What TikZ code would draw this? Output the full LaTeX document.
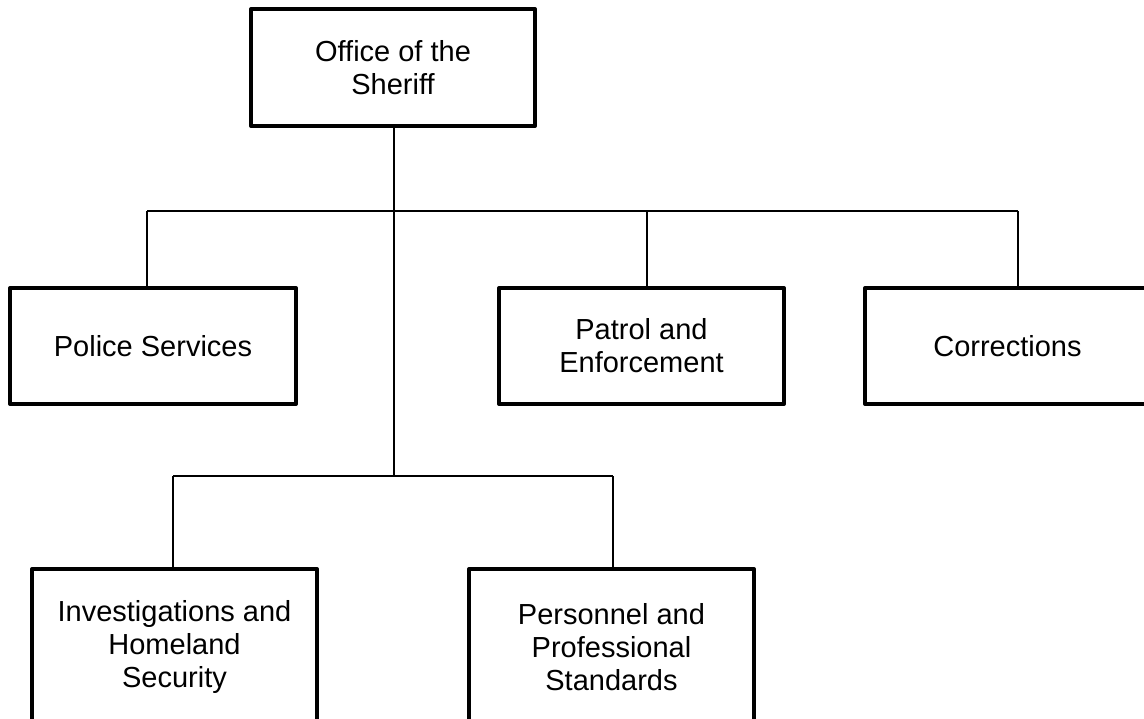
\documentclass[tikz,border=0pt]{standalone}
\usepackage{fontspec}
\setmainfont{Liberation Sans}
\begin{document}
\begin{tikzpicture}[x=1pt,y=-1pt,
  unit/.style={draw=black,line width=4pt,line join=round,fill=white,
    rectangle,align=center,inner sep=0pt,
    font=\fontsize{29}{33}\selectfont},
  unitbox/.style={unit,minimum width=285pt,minimum height=116pt},
  tallbox/.style={unit,minimum width=285pt,minimum height=156pt},
  conn/.style={draw=black,line width=1.3pt}]
\useasboundingbox (0,0) rectangle (1144,719);
\clip (0,0) rectangle (1144,719);

% units
\node[unitbox,minimum width=284pt,minimum height=117pt] (sheriff) at (393,67.5) {Office of the\\Sheriff};
\node[unitbox,minimum width=286pt] (police) at (153,346) {Police Services};
\node[unitbox] (patrol) at (641.5,346) {Patrol and\\Enforcement};
\node[unitbox] (corrections) at (1007.5,346) {Corrections};
\node[tallbox] (invest) at (174.5,647) {Investigations and\\Homeland\\Security};
\node[tallbox] (personnel) at (611.5,647) {Personnel and\\Professional\\Standards};

% branch points of the connector tree
\coordinate (upper) at (394,211);
\coordinate (lower) at (394,476);
\coordinate (tPolice) at (147,211);
\coordinate (tPatrol) at (647,211);
\coordinate (tCorr) at (1018,211);
\coordinate (tInv) at (173,476);
\coordinate (tPers) at (613,476);

% connectors
\draw[conn] (sheriff.south -| upper) -- (lower);
\draw[conn] (tPolice) -- (tCorr);
\draw[conn] (tPolice) -- (tPolice |- police.north);
\draw[conn] (tPatrol) -- (tPatrol |- patrol.north);
\draw[conn] (tCorr) -- (tCorr |- corrections.north);
\draw[conn] (tInv) -- (tPers);
\draw[conn] (tInv) -- (tInv |- invest.north);
\draw[conn] (tPers) -- (tPers |- personnel.north);
\end{tikzpicture}
\end{document}
